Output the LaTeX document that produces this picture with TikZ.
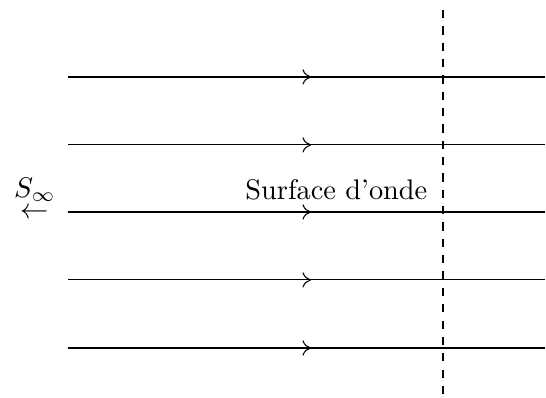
\documentclass[tikz,border=0pt]{standalone}
\usepackage{amsmath, amssymb}
\usepackage{tikz}
\usetikzlibrary{positioning, arrows.meta, decorations.markings}

\tikzset{
  ray/.style={postaction={decorate}, decoration={markings, mark=at position 0.51 with {\arrow{To[length=3.2pt, width=5.6pt]}}}},
  front/.style={dashed}
}

\begin{document}
\begin{tikzpicture}
\useasboundingbox (0,0) rectangle (7.045,5.135);
% rays
\foreach \y [count=\i] in {4.142,3.265,2.400,1.523,0.645} {
  \coordinate (r\i a) at (0.877,\y);
  \coordinate (r\i b) at (7.03,\y);
  \draw[ray] (r\i a) -- (r\i b);
}
% wave surface
\coordinate (top) at (5.716,5.006);
\coordinate (bot) at (5.716,0);
\draw[front] (top) -- (bot);
% labels
\node[scale=1.04] (surf) at (4.34,2.68) {Surface d'onde};
\node[inner sep=0pt, scale=1.04] (src) at (0.45,2.56) {$\underset{\textstyle\leftarrow}{S_\infty}$};
\end{tikzpicture}
\end{document}
